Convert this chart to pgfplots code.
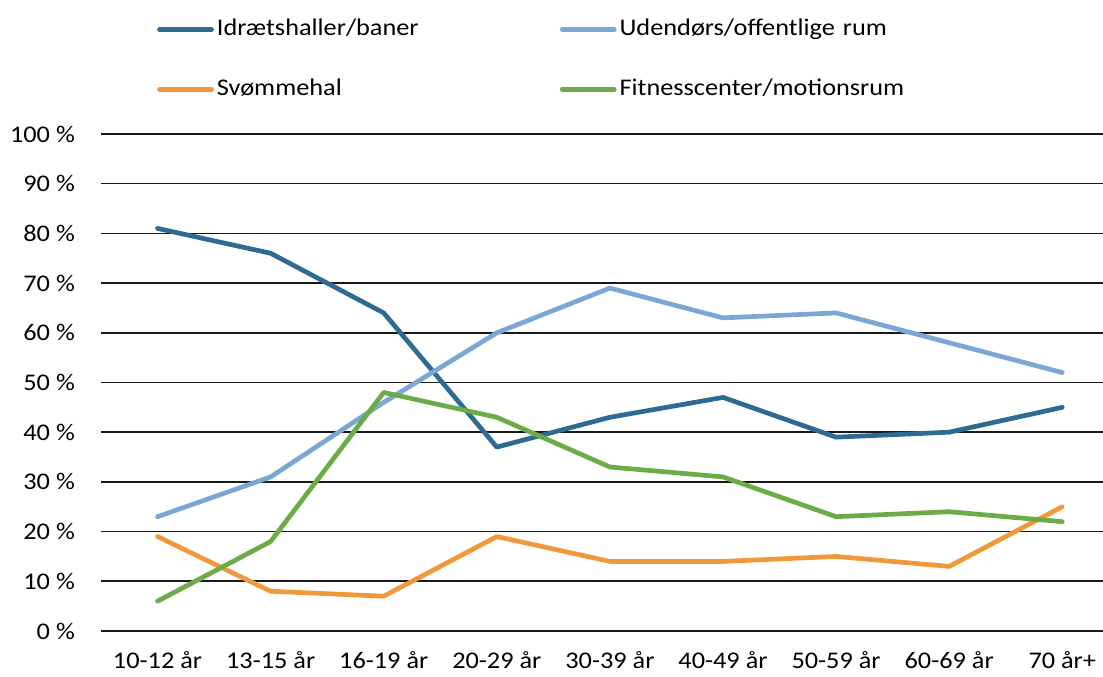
\documentclass[border=0pt]{standalone}
\usepackage{pgfplots}
\pgfplotsset{compat=1.18}
\usepackage{fontspec}
\setmainfont{Carlito}[FakeStretch=1.1]
\definecolor{cIdr}{HTML}{2F6A93}
\definecolor{cUde}{HTML}{7BA7D4}
\definecolor{cSvo}{HTML}{F0983A}
\definecolor{cFit}{HTML}{6BAB48}
\begin{document}
\begin{tikzpicture}
\useasboundingbox (0bp,0bp) rectangle (1103bp,677bp);
\begin{axis}[
  at={(101bp,46bp)}, anchor=south west,
  scale only axis, width=1002bp, height=497bp,
  xmin=-0.5, xmax=8.36, ymin=0, ymax=100,
  axis line style={draw=none}, major tick style={draw=none},
  ymajorgrids, grid style={black!90, line width=1.6bp},
  xtick={0,...,8},
  xticklabels={10-12 år,13-15 år,16-19 år,20-29 år,30-39 år,40-49 år,50-59 år,60-69 år,70 år+},
  ytick={0,10,...,100},
  yticklabels={0 \%,10 \%,20 \%,30 \%,40 \%,50 \%,60 \%,70 \%,80 \%,90 \%,100 \%},
  tick label style={font=\fontsize{24}{28}\selectfont, inner sep=0pt},
  xticklabel shift=20bp,
  yticklabel shift=26bp,
  clip=false,
  every axis plot/.append style={line width=4.7bp, line cap=round, line join=round},
  legend columns=2,
  legend style={at={(0.0559,1.233)}, anchor=north west, draw=none, fill=none,
    inner sep=0pt, column sep=0pt, row sep=38bp,
    nodes={font=\fontsize{24}{28}\selectfont, inner xsep=3bp, inner ysep=0pt,
      text width=340bp, align=left, text height=17bp, text depth=5bp}},
  legend image code/.code={\draw[#1] (0bp,0bp) -- (52bp,0bp);},
]
\addplot[cIdr] coordinates {(0,81)(1,76)(2,64)(3,37)(4,43)(5,47)(6,39)(7,40)(8,45)};
\addlegendentry{Idrætshaller/baner}
\addplot[cUde] coordinates {(0,23)(1,31)(2,46)(3,60)(4,69)(5,63)(6,64)(7,58)(8,52)};
\addlegendentry{Udendørs/offentlige rum}
\addplot[cSvo] coordinates {(0,19)(1,8)(2,7)(3,19)(4,14)(5,14)(6,15)(7,13)(8,25)};
\addlegendentry{Svømmehal}
\addplot[cFit] coordinates {(0,6)(1,18)(2,48)(3,43)(4,33)(5,31)(6,23)(7,24)(8,22)};
\addlegendentry{Fitnesscenter/motionsrum}
\end{axis}
\end{tikzpicture}
\end{document}
